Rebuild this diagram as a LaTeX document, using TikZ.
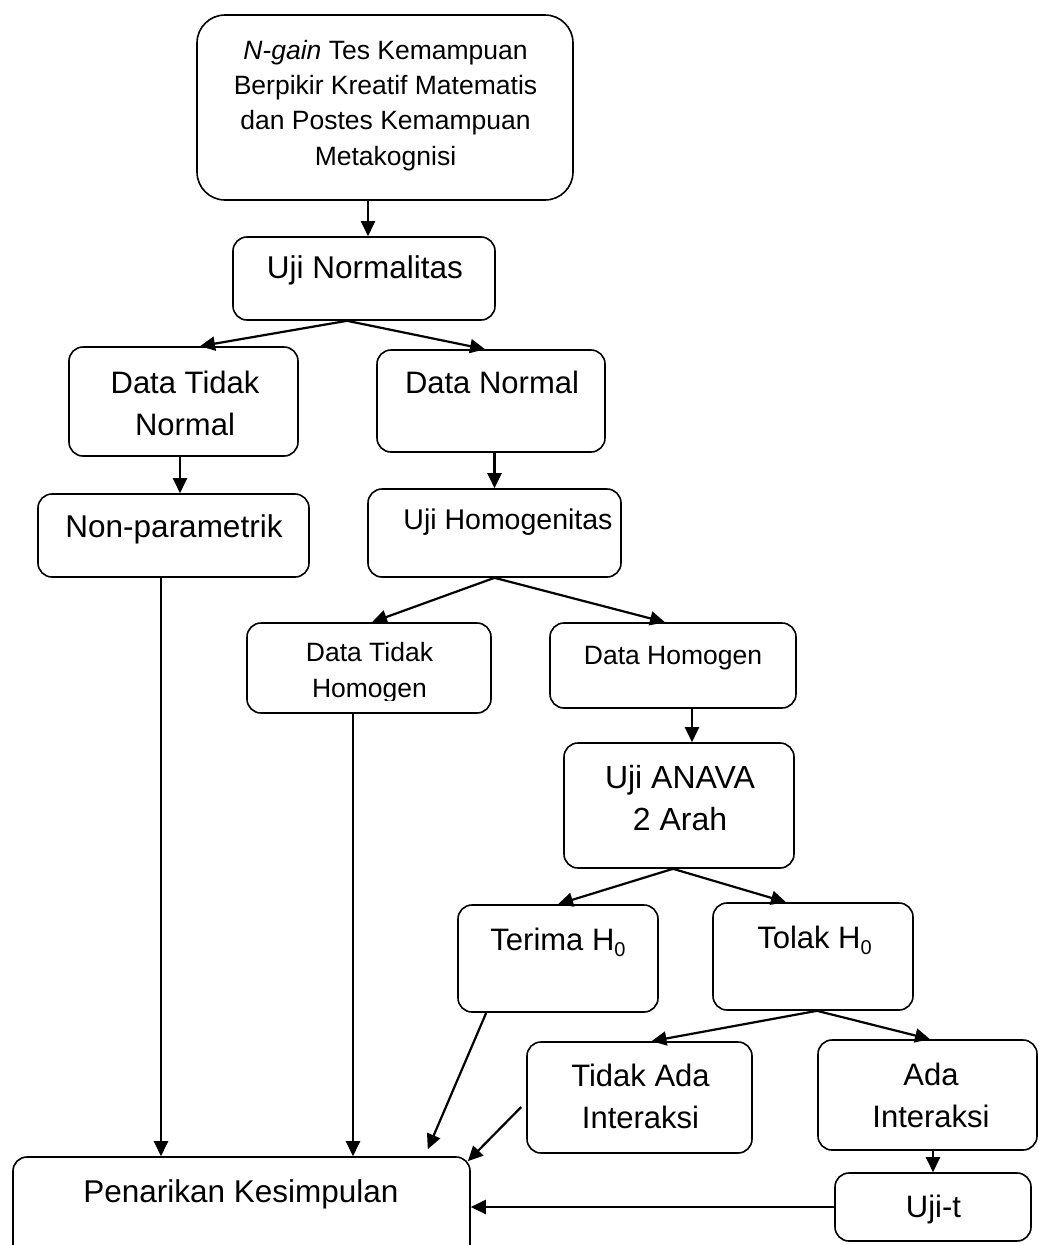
\documentclass[tikz,border=0pt]{standalone}
\usepackage{fontspec}
\setmainfont{Liberation Sans}
\usetikzlibrary{arrows.meta}
\newcommand\lowsub[1]{\raisebox{-0.22em}{\fontsize{20}{20}\selectfont #1}}
\tikzset{
  box/.style={draw=black, line width=1.6pt, rounded corners=14pt, inner sep=0pt},
  arr/.style={line width=2.2pt, -{Triangle[length=15pt,width=14pt]}},
  txt/.style={align=center, inner sep=0pt, anchor=base},
  big/.style={txt, font=\fontsize{31}{42}\selectfont},
  mid/.style={txt, font=\fontsize{28.5}{36}\selectfont},
  sml/.style={txt, font=\fontsize{26.5}{35.3}\selectfont},
}
\begin{document}
\begin{tikzpicture}[x=1pt,y=-1pt]
\clip (0,0) rectangle (1040,1245);
\fill[white] (0,0) rectangle (1040,1245);
% boxes
\node[box, rounded corners=28pt, minimum width=376pt, minimum height=185pt] (top) at (385,107.5) {};
\node[box, minimum width=262pt, minimum height=83pt] (un) at (364,278.5) {};
\node[box, minimum width=229pt, minimum height=109pt] (dtn) at (183.5,401.5) {};
\node[box, minimum width=228pt, minimum height=102pt] (dn) at (491,401) {};
\node[box, minimum width=271pt, minimum height=83pt] (np) at (173.5,535.5) {};
\node[box, minimum width=253pt, minimum height=88pt] (uh) at (494.5,533) {};
\node[box, minimum width=244pt, minimum height=90pt] (dth) at (369,668) {};
\node[box, minimum width=246pt, minimum height=85pt] (dh) at (673,665.5) {};
\node[box, minimum width=230pt, minimum height=125pt] (anava) at (679,805.5) {};
\node[box, minimum width=200pt, minimum height=107pt] (terima) at (558,958.5) {};
\node[box, minimum width=200pt, minimum height=107pt] (tolak) at (813,956.5) {};
\node[box, minimum width=225pt, minimum height=111pt] (tai) at (639.5,1097.5) {};
\node[box, minimum width=219pt, minimum height=110pt] (ai) at (927.5,1095) {};
\node[box, minimum width=196pt, minimum height=68pt] (ujit) at (933,1207) {};
\node[box, minimum width=457pt, minimum height=118pt] (pk) at (241.5,1216) {};
% texts (anchor=base: baseline of the last line)
\node[sml] (t-top) at (385.5,165) {\textit{N-gain} Tes Kemampuan\\Berpikir Kreatif Matematis\\dan Postes Kemampuan\\Metakognisi};
\node[big, font=\fontsize{31.5}{42}\selectfont] (t-un) at (365,278) {Uji Normalitas};
\node[big] (t-dtn) at (185,435) {Data Tidak\\Normal};
\node[big] (t-dn) at (492,393) {Data Normal};
\node[big, font=\fontsize{31.5}{42}\selectfont] (t-np) at (174,537) {Non-parametrik};
\node[mid] (t-uh) at (508,529) {Uji Homogenitas};
\begin{scope}
\clip (240,600) rectangle (500,700);
\node[sml] (t-dth) at (369.5,697) {Data Tidak\\Homogen};
\end{scope}
\node[sml] (t-dh) at (673,664) {Data Homogen};
\node[big, font=\fontsize{32}{42}\selectfont] (t-anava) at (680,830) {Uji ANAVA\\2 Arah};
\node[big] (t-terima) at (558,950) {Terima H\lowsub{0}};
\node[big] (t-tolak) at (814.5,948) {Tolak H\lowsub{0}};
\node[big] (t-tai) at (640.5,1128) {Tidak Ada\\Interaksi};
\node[big] (t-ai) at (931,1127) {Ada\\Interaksi};
\node[big] (t-ujit) at (933.5,1217) {Uji-t};
\node[big, font=\fontsize{31.5}{42}\selectfont] (t-pk) at (241,1202) {Penarikan Kesimpulan};
% connectors
\draw[arr] ([xshift=4pt]un.north |- top.south) -- ([xshift=4pt]un.north);
\draw[arr] ([xshift=-17pt]un.south) -- ([xshift=16.5pt]dtn.north);
\draw[arr] ([xshift=-17pt]un.south) -- ([xshift=-6pt]dn.north);
\draw[arr] ([xshift=-3.5pt]dtn.south) -- ([xshift=-3.5pt]dtn.south |- np.north);
\draw[arr] (dn.south -| uh.north) -- (uh.north);
\draw[arr] (uh.south) -- ([xshift=3pt]dth.north);
\draw[arr] (uh.south) -- ([xshift=-8pt]dh.north);
\draw[arr] ([xshift=19pt]dh.south) -- ([xshift=19pt]dh.south |- anava.north);
\draw[arr] ([xshift=-6pt]anava.south) -- (terima.north);
\draw[arr] ([xshift=-6pt]anava.south) -- ([xshift=-27pt]tolak.north);
\draw[arr] ([xshift=4pt]tolak.south) -- ([xshift=12pt]tai.north);
\draw[arr] ([xshift=4pt]tolak.south) -- ([xshift=2.5pt]ai.north);
\draw[arr] (ujit.north |- ai.south) -- (ujit.north);
\draw[arr] (ujit.west) -- (ujit.west -| pk.east);
\draw[arr] ([xshift=-12.5pt]np.south) -- ([xshift=-12.5pt]np.south |- pk.north);
\draw[arr] ([xshift=-16pt]dth.south) -- ([xshift=-16pt]dth.south |- pk.north);
\draw[arr] ([xshift=29pt]terima.south west) -- ([xshift=-43pt,yshift=7pt]pk.north east);
\draw[arr] ([xshift=-5pt,yshift=-9.5pt]tai.west) -- ([xshift=-3pt,yshift=-5pt]pk.north east);
\end{tikzpicture}
\end{document}
